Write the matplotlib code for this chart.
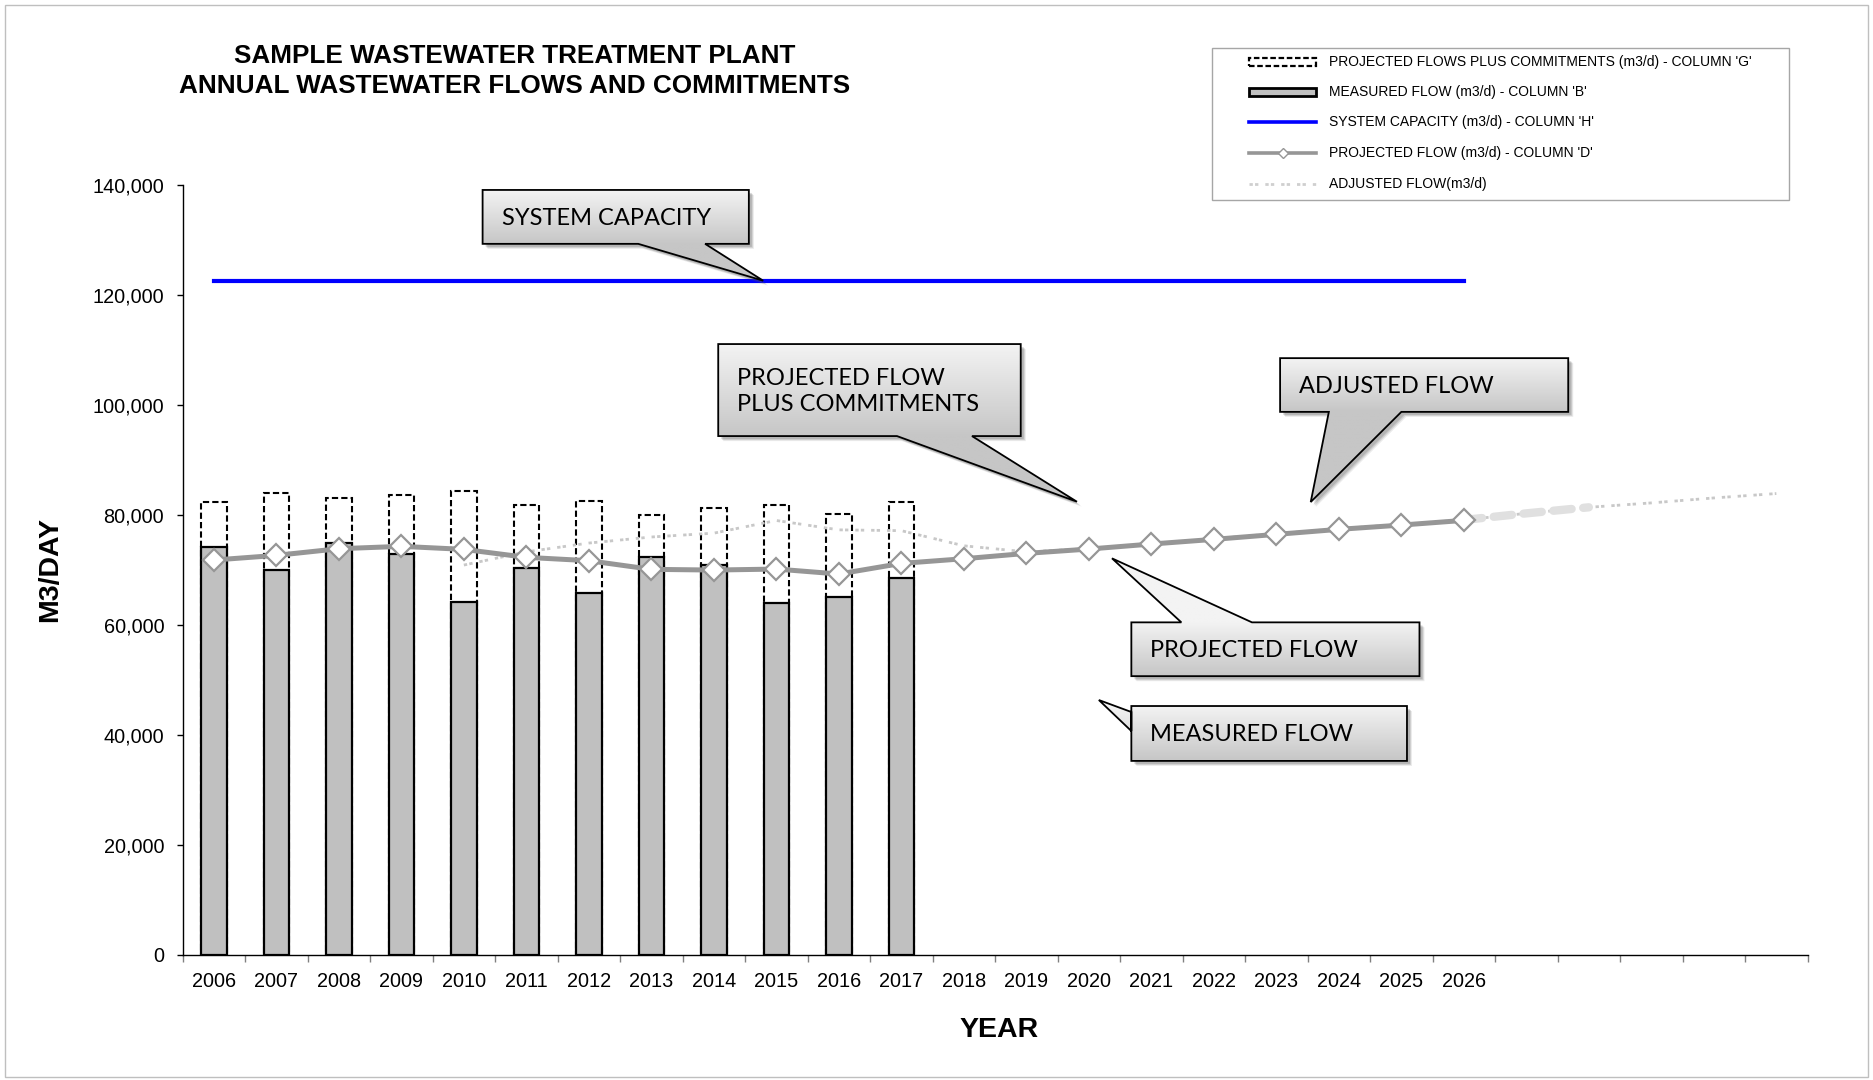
import matplotlib
matplotlib.use('Agg')
import matplotlib.pyplot as plt
import numpy as np
from matplotlib.patches import Polygon, Rectangle
from matplotlib.lines import Line2D
import matplotlib.transforms as mtransforms
from matplotlib.colors import LinearSegmentedColormap
from matplotlib.ticker import FuncFormatter, FixedLocator

# ---------------- data ----------------
years = list(range(2006, 2032))
tick_labels = [str(y) if y <= 2026 else '' for y in years]

measured_years = list(range(2006, 2018))
measured_flow = [74240, 69990, 74840, 72840, 64180, 70300, 65750, 72300,
                 70900, 64050, 65140, 68600]
commitments = [82300, 84050, 83080, 83630, 84350, 81750, 82540, 80050,
               81270, 81810, 80230, 82360]

projected_years = list(range(2006, 2027))
projected_flow = [71810, 72660, 73870, 74300, 73750, 72300, 71690, 70120,
                  69990, 70170, 69270, 71200, 72050, 73020, 73810, 74720,
                  75570, 76480, 77390, 78170, 79020]

capacity_years = list(range(2006, 2027))
capacity = [122600] * len(capacity_years)

adjusted_years = list(range(2010, 2032))
adjusted_flow = [70900, 73300, 74900, 76000, 76700, 79000, 77300, 77150,
                 74400, 73300, 73900, 74700, 75700, 76600, 77500, 78300,
                 79100, 80300, 81400, 82200, 83100, 83900]

legend_labels = ["PROJECTED FLOWS PLUS COMMITMENTS (m3/d) - COLUMN 'G'",
                 "MEASURED FLOW (m3/d) - COLUMN 'B'",
                 "SYSTEM CAPACITY (m3/d) - COLUMN 'H'",
                 "PROJECTED FLOW (m3/d) - COLUMN 'D'",
                 "ADJUSTED FLOW(m3/d)"]

# ---------------- figure ----------------
W, H = 1873, 1080
fig = plt.figure(figsize=(W / 100, H / 100), dpi=100)
plt.rcParams['font.family'] = ['Liberation Sans', 'DejaVu Sans']

def fx(px):
    return px / W

def fy(py):
    return 1 - py / H

ax = fig.add_axes([fx(182.6), fy(955), fx(1807.6) - fx(182.6), fy(185) - fy(955)])

pos = {y: i for i, y in enumerate(years)}
xm = [pos[y] for y in measured_years]
xp = [pos[y] for y in projected_years]
xc = [pos[y] for y in capacity_years]
xa = [pos[y] for y in adjusted_years]

bw = 0.41
# commitments (dashed outline)
ax.bar(xm, commitments, width=bw, facecolor='none', edgecolor='black',
       linewidth=1.5, linestyle=(0, (3, 1.5)), zorder=2)
# measured flow
ax.bar(xm, measured_flow, width=bw, facecolor='#c0c0c0', edgecolor='black',
       linewidth=1.6, zorder=3)

# adjusted flow (light dotted)
ax.plot(xa, adjusted_flow, color='#c8c8c8', linewidth=2.0,
        linestyle=(0, (1.2, 0.8, 1.2, 2.5)), zorder=4)
# thick dashed portion after 2026
i26 = adjusted_years.index(2026)
ax.plot(xa[i26:i26 + 3], adjusted_flow[i26:i26 + 3], color='#e0e0e0', linewidth=6,
        linestyle=(0, (2.2, 1.4)), solid_capstyle='round', dash_capstyle='round', zorder=4)

# projected flow
ax.plot(xp, projected_flow, color='#969696', linewidth=3.6, marker='D',
        markersize=11, markerfacecolor='white', markeredgecolor='#969696',
        markeredgewidth=1.6, zorder=5)

# system capacity
ax.plot(xc, capacity, color='#0000ff', linewidth=3, zorder=5)

ax.set_xlim(-0.5, len(years) - 0.5)
ax.set_ylim(0, 140000)
ax.set_yticks(np.arange(0, 140001, 20000))
ax.yaxis.set_major_formatter(FuncFormatter(lambda v, p: f"{int(v):,}"))
ax.tick_params(axis='y', direction='out', length=4.3, width=1, labelsize=14.3, pad=9)

ax.xaxis.set_major_locator(FixedLocator(np.arange(-0.5, len(years), 1.0)))
ax.xaxis.set_minor_locator(FixedLocator(np.arange(0, len(years))))
ax.set_xticklabels([], minor=False)
ax.set_xticklabels(tick_labels, minor=True)
ax.tick_params(axis='x', which='major', direction='out', length=5, width=1, color='#808080')
ax.tick_params(axis='x', which='minor', length=0, labelsize=14.3, pad=12)

for s in ['top', 'right']:
    ax.spines[s].set_visible(False)
ax.spines['left'].set_linewidth(1)
ax.spines['bottom'].set_linewidth(1)

ax.set_ylabel('M3/DAY', fontsize=20.5, fontweight='bold')
ax.yaxis.set_label_coords((50 - 182.6) / 1625, 0.5)
ax.set_xlabel('YEAR', fontsize=20.5, fontweight='bold')
ax.xaxis.set_label_coords(0.5 + (999 - 995) / 1625, -(1030 - 955) / 770)
ax.xaxis.label.set_va('center')
ax.yaxis.label.set_va('center')

# title
fig.text(fx(515), fy(71), "SAMPLE WASTEWATER TREATMENT PLANT\nANNUAL WASTEWATER FLOWS AND COMMITMENTS",
         ha='center', va='center', fontsize=18.8, fontweight='bold', linespacing=1.28)

# ---------------- callouts ----------------
grad_cmap = LinearSegmentedColormap.from_list('g', ['#f3f3f3', '#c6c6c6'])

def callout(text, x0, x1, ytop, ybot, edge, base, tip, fs=17):
    if edge == 'bottom':
        verts = [(x0, ytop), (x1, ytop), (x1, ybot), (base[1], ybot), tip,
                 (base[0], ybot), (x0, ybot)]
    elif edge == 'top':
        verts = [(x0, ytop), (base[0], ytop), tip, (base[1], ytop), (x1, ytop),
                 (x1, ybot), (x0, ybot)]
    else:  # left
        verts = [(x0, ytop), (x1, ytop), (x1, ybot), (x0, ybot), (x0, base[1]),
                 tip, (x0, base[0])]
    xs = [v[0] for v in verts]
    ys = [v[1] for v in verts]
    # shadow
    for off, al in [(5, 0.12), (4, 0.18), (3, 0.22)]:
        sh = Polygon(verts, closed=True, facecolor='#555555', edgecolor='none', alpha=al,
                     transform=ax.transData + mtransforms.ScaledTranslation(off / 100, -off / 100, fig.dpi_scale_trans),
                     zorder=9, clip_on=False)
        ax.add_patch(sh)
    poly = Polygon(verts, closed=True, facecolor='none', edgecolor='black', linewidth=1.3,
                   zorder=11, clip_on=False)
    ax.add_patch(poly)
    clip = Polygon(verts, closed=True, facecolor='none', edgecolor='none', transform=ax.transData)
    ax.add_patch(clip)
    ymin, ymax = min(ys), max(ys)
    yy = np.linspace(ymax, ymin, 200)
    t = np.clip((ytop - yy) / (ytop - ybot), 0, 1)
    img = ax.imshow(t[:, None], extent=[min(xs), max(xs), ymin, ymax], aspect='auto',
                    cmap=grad_cmap, vmin=0, vmax=1, interpolation='bilinear', origin='upper',
                    zorder=10, clip_on=True)
    img.set_clip_path(clip)
    ax.annotate(text, xy=(x0, (ytop + ybot) / 2), xytext=(13.7, -1), textcoords='offset points',
                ha='left', va='center', fontsize=fs, family=['Lato', 'DejaVu Sans'],
                linespacing=1.3, zorder=12, annotation_clip=False)

callout('SYSTEM CAPACITY', 4.30, 8.56, 139100, 129300, 'bottom', (6.79, 7.86),
        (8.79, capacity[0]))
callout('PROJECTED FLOW\nPLUS COMMITMENTS', 8.07, 12.91, 111080, 94350, 'bottom',
        (10.93, 12.13), (13.81, 82410))
callout('ADJUSTED FLOW', 17.06, 21.67, 108520, 98750, 'bottom', (17.84, 19.0),
        (17.55, 82360))
callout('PROJECTED FLOW', 14.68, 19.29, 60480, 50700, 'top', (15.48, 16.61),
        (14.37, 72120))
callout('MEASURED FLOW', 14.68, 19.09, 45270, 35290, 'left', (40720, 44180),
        (14.16, 46360))

ax.set_xlim(-0.5, len(years) - 0.5)
ax.set_ylim(0, 140000)

# ---------------- legend (manual) ----------------
fig.patches.append(Rectangle((fx(1212), fy(199.5)), fx(1789) - fx(1212), fy(48) - fy(199.5),
                             transform=fig.transFigure, facecolor='white', edgecolor='#a6a6a6',
                             linewidth=1, zorder=1))
rows = [62, 92, 122, 153, 184]
hx0, hx1, tx = 1249, 1316, 1329
# 1 dashed rect
fig.patches.append(Rectangle((fx(hx0), fy(rows[0] + 4)), fx(hx1) - fx(hx0), fy(rows[0] - 4) - fy(rows[0] + 4),
                             transform=fig.transFigure, facecolor='white', edgecolor='black',
                             linewidth=1.6, linestyle=(0, (2.5, 1.2)), zorder=3))
# 2 grey rect
fig.patches.append(Rectangle((fx(hx0), fy(rows[1] + 4)), fx(hx1) - fx(hx0), fy(rows[1] - 4) - fy(rows[1] + 4),
                             transform=fig.transFigure, facecolor='#c0c0c0', edgecolor='black',
                             linewidth=2, zorder=3))
# 3 blue line
fig.lines.append(Line2D([fx(hx0), fx(hx1)], [fy(rows[2])] * 2, transform=fig.transFigure,
                        color='#0000ff', linewidth=2.6, zorder=3))
# 4 grey with diamond
fig.lines.append(Line2D([fx(hx0), fx(hx1)], [fy(rows[3])] * 2, transform=fig.transFigure,
                        color='#969696', linewidth=2.6, zorder=3))
fig.lines.append(Line2D([fx((hx0 + hx1) / 2)], [fy(rows[3])], transform=fig.transFigure,
                        color='#969696', marker='D', markersize=5.5, markerfacecolor='white',
                        markeredgewidth=1, linestyle='none', zorder=4))
# 5 adjusted dotted
fig.lines.append(Line2D([fx(hx0), fx(hx1)], [fy(rows[4])] * 2, transform=fig.transFigure,
                        color='#cfcfcf', linewidth=2, linestyle=(0, (1.2, 0.8, 1.2, 2.5)), zorder=3))
for r, lab in zip(rows, legend_labels):
    fig.text(fx(tx), fy(r), lab, ha='left', va='center', fontsize=10, zorder=5)

# outer border
fig.patches.append(Rectangle((fx(5), fy(1077)), fx(1868) - fx(5), fy(5) - fy(1077),
                             transform=fig.transFigure, facecolor='none', edgecolor='#bfbfbf',
                             linewidth=1, zorder=0))

fig.savefig('out.png', dpi=100)
